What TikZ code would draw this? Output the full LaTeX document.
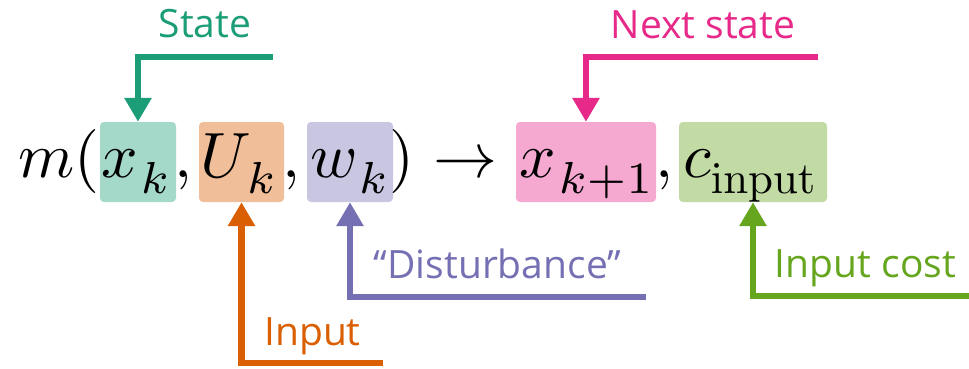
\documentclass[tikz,border=0pt]{standalone}
\usepackage{graphicx}
\usepackage[no-math]{fontspec}
\setsansfont{Open Sans}
\usetikzlibrary{arrows.meta}
\definecolor{dteal}{HTML}{1B9E77}
\definecolor{dorange}{HTML}{D95F02}
\definecolor{dpurple}{HTML}{7570B3}
\definecolor{dpink}{HTML}{E7298A}
\definecolor{dgreen}{HTML}{66A61E}
\newcommand{\bigmath}[1]{\scalebox{6.4}{$#1$}}
\newcommand{\lowsub}[1]{_{\mkern1mu\raisebox{-1pt}{$\scriptstyle #1$}}}
\newcommand{\lowtxt}[1]{_{\raisebox{-1pt}{\scalebox{0.7}{$\mathrm{#1}$}}}}
\begin{document}
\begin{tikzpicture}[x=1pt,y=-1pt,
  hl/.style={rounded corners=4pt, inner sep=0pt, minimum height=80pt},
  mth/.style={inner sep=0pt, anchor=base west, font=\fontsize{10}{12}\selectfont},
  lbl/.style={inner sep=0pt, anchor=base, font=\sffamily\fontsize{39}{45}\selectfont},
  conn/.style={line width=6.5pt, -{Triangle[length=24pt,width=26pt]}}]
\useasboundingbox (0,0) rectangle (969,368);
% highlight boxes
\node[hl, fill=dteal!40, minimum width=76pt] (xk) at (138,162) {};
\node[hl, fill=dorange!40, minimum width=85pt] (uk) at (241.5,162) {};
\node[hl, fill=dpurple!40, minimum width=86pt] (wk) at (350,162) {};
\node[hl, fill=dpink!40, minimum width=140pt] (xkp) at (586,162) {};
\node[hl, fill=dgreen!40, minimum width=148pt] (cin) at (753,162) {};
% formula
\node[mth] (mo) at (18,177) {\bigmath{m(}};
\node[mth] (xt) at (101,177) {\bigmath{x\lowsub{k}}};
\node[mth] (ca) at (174,177) {\bigmath{,}};
\node[mth] (ut) at (200,177) {\bigmath{U\lowsub{k}}};
\node[mth] (cb) at (282,177) {\bigmath{,}};
\node[mth] (wt) at (310,177) {\bigmath{w\lowsub{k}}};
\node[mth] (rp) at (389,177) {\bigmath{)}};
\node[mth] (ar) at (433,177) {\bigmath{\to}};
\node[mth] (xpt) at (519,177) {\bigmath{x\lowsub{k+1}}};
\node[mth] (cc) at (655,177) {\bigmath{,}};
\node[mth] (ct) at (683,177) {\bigmath{c\lowtxt{input}}};
% labels
\node[lbl, text=dteal] (lstate) at (205,37) {State};
\node[lbl, text=dpink] (lnext) at (703,38) {Next state};
\node[lbl, text=dorange] (linput) at (312.5,345) {Input};
\node[lbl, text=dpurple] (ldist) at (497.5,278) {“Disturbance”};
\node[lbl, text=dgreen] (lcost) at (865.5,277) {Input cost};
% connectors
\coordinate (sE) at (273,57);
\coordinate (nE) at (818,57);
\coordinate (iE) at (383,363);
\coordinate (dE) at (646,297);
\coordinate (cE) at (969,296);
\draw[conn, dteal] (sE) -| (xk.north);
\draw[conn, dpink] (nE) -| (xkp.north);
\draw[conn, dorange] (iE) -| (uk.south);
\draw[conn, dpurple] (dE) -| (wk.south);
\draw[conn, dgreen] (cE) -| (cin.south);
\end{tikzpicture}
\end{document}
